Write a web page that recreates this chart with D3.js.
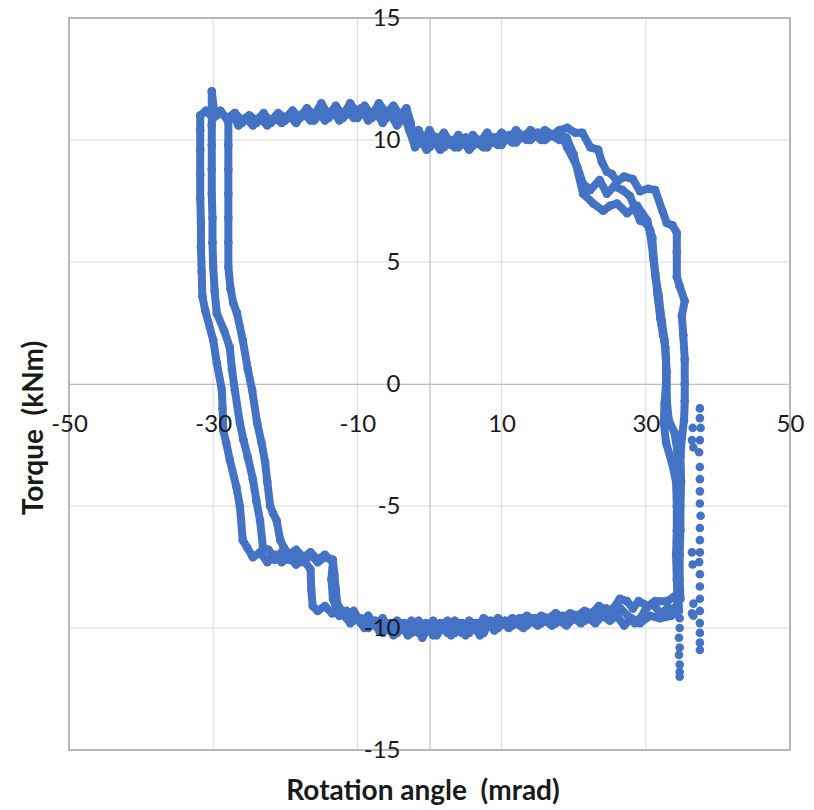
<!DOCTYPE html>
<html>
<head>
<meta charset="utf-8">
<script src="https://d3js.org/d3.v7.min.js"></script>
<style>
  body { margin: 0; background: #fff; }
  svg { display: block; }
</style>
</head>
<body>
<div id="chart"></div>
<script>
// rotation angle (mrad), torque (kNm) -- three cycles
var loop1 = [
  [-31.8, 11.0], [-31.0, 11.2], [-30.0, 10.9], [-29.0, 11.1], [-28.0, 10.9], [-27.0, 11.1], [-26.0, 10.8], [-25.0, 11.0],
  [-24.0, 10.7], [-23.0, 11.0], [-22.0, 10.8], [-21.0, 11.1], [-20.0, 10.9], [-19.0, 11.2], [-18.0, 10.9], [-17.0, 11.3],
  [-16.0, 11.0], [-15.0, 11.5], [-14.0, 11.0], [-13.0, 11.4], [-12.0, 11.0], [-11.0, 11.5], [-10.0, 11.1], [-9.0, 11.4],
  [-8.0, 11.0], [-7.0, 11.5], [-6.0, 11.1], [-5.0, 11.4], [-4.0, 11.0], [-3.2, 11.3], [-2.6, 10.7], [-2.2, 10.0],
  [-1.5, 10.4], [-0.8, 9.8], [0.0, 10.4], [1.0, 9.9], [2.0, 10.3], [3.0, 9.8], [4.0, 10.2], [5.0, 9.8], [6.0, 10.2],
  [7.0, 9.9], [8.0, 10.3], [9.0, 9.9], [10.0, 10.3], [11.0, 10.0], [12.0, 10.4], [13.0, 10.1], [14.0, 10.4], [15.0, 10.2],
  [16.0, 10.4], [17.0, 10.2], [18.0, 10.4], [19.1, 10.5], [20.2, 10.3], [21.2, 10.3], [22.3, 9.7], [23.4, 9.6], [23.9, 9.1],
  [24.6, 8.7], [25.3, 8.6], [26.0, 8.3], [27.0, 8.5], [28.2, 8.4], [29.2, 7.9], [30.3, 8.0], [31.3, 7.95], [32.3, 7.1],
  [32.9, 6.6], [33.7, 6.5], [34.3, 6.2],
  [34.3, 5.4], [34.3, 4.4], [34.7, 4.0], [35.4, 3.4], [35.0, 2.8], [35.2, 2.0], [35.4, 1.0], [35.4, 0.0], [35.4, -0.7],
  [35.3, -1.5], [35.0, -2.2], [34.8, -3.0], [34.9, -4.0], [34.8, -5.0], [34.8, -6.0], [34.7, -7.0], [34.7, -8.0], [34.8, -8.8],
  [34.0, -8.7], [33.0, -8.9], [31.3, -8.9], [30.3, -9.1], [29.0, -8.9], [28.2, -9.2], [27.4, -8.9], [26.4, -8.8], [25.5, -9.2],
  [24.5, -9.3], [23.5, -9.1], [22.5, -9.4], [21.5, -9.3], [20.5, -9.5], [19.5, -9.4], [18.5, -9.6], [17.5, -9.4], [16.5, -9.6],
  [15.5, -9.5], [14.5, -9.7], [13.5, -9.5], [12.5, -9.7], [11.5, -9.6], [10.5, -9.8], [9.5, -9.6], [8.5, -9.9], [7.5, -9.6],
  [6.5, -10.1], [5.5, -9.7], [4.5, -10.2], [3.5, -9.7], [2.5, -10.2], [1.5, -9.8], [0.5, -10.3], [-0.5, -9.8], [-1.5, -10.2],
  [-2.5, -9.7], [-3.5, -10.1], [-4.5, -9.7], [-5.5, -10.1], [-6.5, -9.6], [-7.5, -9.9], [-8.5, -9.5], [-9.5, -9.8],
  [-10.5, -9.3], [-11.5, -9.6], [-12.5, -9.2], [-13.5, -9.4], [-14.5, -9.1], [-15.5, -9.3], [-16.2, -9.1], [-16.4, -8.4],
  [-16.5, -7.6], [-17.5, -7.2], [-18.5, -7.4], [-19.5, -7.1], [-20.5, -7.3], [-21.5, -7.0], [-22.5, -7.3], [-23.5, -6.9],
  [-24.5, -7.1], [-25.3, -6.7], [-25.9, -6.4],
  [-26.3, -5.0], [-26.8, -4.2], [-27.7, -3.1], [-28.2, -2.4], [-28.6, -1.9], [-28.7, -1.0], [-28.8, -0.25], [-29.5, 0.86],
  [-30.0, 1.8], [-31.1, 3.0], [-31.5, 3.6], [-31.6, 4.6], [-31.7, 5.6], [-31.7, 6.6], [-31.8, 7.6], [-31.8, 8.6], [-31.8, 9.6],
  [-31.8, 10.4], [-31.8, 11.0]
];

var loop2 = [
  [-30.2, 11.2], [-30.2, 12.0], [-29.8, 11.0], [-29.0, 11.2], [-28.0, 10.8], [-27.2, 11.0], [-26.5, 10.6], [-25.5, 10.9],
  [-24.5, 10.6], [-23.5, 10.9], [-22.5, 10.6], [-21.5, 10.9], [-20.5, 10.7], [-19.5, 11.0], [-18.5, 10.7], [-17.5, 11.1],
  [-16.5, 10.8], [-15.5, 11.2], [-14.5, 10.8], [-13.5, 11.2], [-12.5, 10.8], [-11.5, 11.2], [-10.5, 10.9], [-9.5, 11.3],
  [-8.5, 10.8], [-7.5, 11.2], [-6.5, 10.7], [-5.5, 11.1], [-4.5, 10.6], [-3.5, 11.0], [-2.8, 10.4], [-2.0, 9.7], [-1.2, 10.1],
  [-0.4, 9.6], [0.5, 10.0], [1.5, 9.6], [2.5, 10.0], [3.5, 9.7], [4.5, 10.0], [5.5, 9.6], [6.5, 9.9], [7.5, 9.7], [8.5, 10.0],
  [9.5, 9.8], [10.5, 10.1], [11.5, 9.9], [12.5, 10.2], [13.5, 10.0], [14.5, 10.2], [15.5, 10.0], [16.5, 10.3], [17.5, 10.1],
  [18.3, 10.2], [19.1, 9.7], [20.5, 8.9], [21.3, 8.2], [22.3, 7.95], [23.6, 8.36], [24.6, 7.8], [25.6, 8.1], [26.8, 7.95],
  [27.8, 7.7], [28.5, 7.2], [29.2, 6.7], [30.0, 6.6], [30.6, 6.3],
  [30.9, 6.0], [31.1, 5.1], [31.4, 4.3], [31.6, 3.7], [32.0, 2.7], [32.4, 2.0], [32.7, 1.5], [32.9, 0.5], [32.9, -0.66],
  [33.2, -1.5], [34.0, -2.0], [34.4, -2.8], [34.5, -3.6], [34.5, -4.6], [34.5, -5.6], [34.4, -6.6], [34.4, -7.6], [34.5, -8.6],
  [34.6, -9.3],
  [33.5, -9.5], [32.0, -9.6], [30.6, -9.5], [29.2, -9.8], [28.0, -9.6], [27.0, -9.9], [26.0, -9.5], [25.0, -9.7], [24.0, -9.5],
  [23.0, -9.8], [22.0, -9.6], [21.0, -9.8], [20.0, -9.6], [19.0, -9.9], [18.0, -9.7], [17.0, -9.9], [16.0, -9.7], [15.0, -9.9],
  [14.0, -9.7], [13.0, -10.0], [12.0, -9.8], [11.0, -10.0], [10.0, -9.8], [9.0, -10.1], [8.0, -9.7], [7.0, -10.3], [6.0, -9.8],
  [5.0, -10.3], [4.0, -9.8], [3.0, -10.3], [2.0, -9.8], [1.0, -10.3], [0.0, -9.9], [-1.0, -10.4], [-2.0, -9.9], [-3.0, -10.3],
  [-4.0, -9.8], [-5.0, -10.3], [-6.0, -9.8], [-7.0, -10.1], [-8.0, -9.7], [-9.0, -10.0], [-10.0, -9.6], [-11.0, -9.8],
  [-12.0, -9.4], [-12.8, -9.0], [-13.0, -8.4], [-13.2, -7.8], [-13.4, -7.2], [-14.5, -7.1], [-15.5, -7.3], [-16.5, -7.0],
  [-17.5, -7.3], [-18.5, -6.9], [-19.5, -7.2], [-20.5, -6.9], [-21.5, -7.2], [-22.3, -6.8], [-23.1, -6.7],
  [-23.5, -5.6], [-24.0, -4.8], [-24.5, -3.9], [-25.2, -3.0], [-25.8, -2.3], [-26.3, -1.6], [-27.0, -0.25], [-27.4, 0.6],
  [-27.7, 1.5], [-28.5, 2.2], [-29.5, 2.9], [-29.8, 3.8], [-30.0, 4.8], [-30.1, 5.8], [-30.1, 6.8], [-30.2, 7.8], [-30.2, 8.8],
  [-30.2, 9.8], [-30.2, 10.6], [-30.2, 11.2]
];

var loop3 = [
  [-27.9, 10.9], [-27.0, 11.1], [-26.0, 10.7], [-25.0, 11.0], [-24.0, 10.8], [-23.0, 11.1], [-22.0, 10.7], [-21.0, 11.0],
  [-20.0, 10.8], [-19.0, 11.2], [-18.0, 10.9], [-17.0, 11.1], [-16.0, 10.8], [-15.0, 11.1], [-14.0, 10.9], [-13.0, 11.3],
  [-12.0, 10.9], [-11.0, 11.2], [-10.0, 10.9], [-9.0, 11.3], [-8.0, 10.9], [-7.0, 11.2], [-6.0, 10.9], [-5.0, 11.1],
  [-4.0, 10.8], [-3.0, 10.8], [-2.4, 10.2], [-1.8, 9.8], [-1.0, 10.2], [0.0, 9.7], [1.0, 10.1], [2.0, 9.7], [3.0, 10.0],
  [4.0, 9.7], [5.0, 10.1], [6.0, 9.8], [7.0, 10.0], [8.0, 9.7], [9.0, 10.1], [10.0, 9.8], [11.0, 10.2], [12.0, 9.9],
  [13.0, 10.2], [14.0, 10.0], [15.0, 10.3], [16.0, 10.0], [17.0, 10.2], [18.0, 10.0], [19.0, 10.1], [20.0, 9.4], [21.3, 7.8],
  [22.7, 7.4], [24.1, 7.1], [25.0, 7.3], [26.0, 7.4], [27.4, 7.0], [28.8, 7.3], [30.2, 6.7], [30.6, 6.2],
  [31.0, 5.3], [31.3, 4.5], [31.8, 3.6], [32.2, 2.6], [32.6, 1.8], [32.8, 1.0], [32.8, 0.0], [32.6, -0.8], [32.5, -1.6],
  [32.8, -2.4], [33.6, -3.2], [34.2, -4.0], [34.3, -5.0], [34.3, -6.0], [34.2, -7.0], [34.3, -8.0], [34.4, -9.0],
  [34.0, -9.2], [33.0, -9.2], [32.0, -9.4], [31.0, -9.0], [30.0, -9.2], [29.5, -9.5], [28.5, -9.8], [27.5, -9.5], [26.5, -9.2],
  [25.5, -9.5], [24.5, -9.2], [23.5, -9.6], [22.5, -9.4], [21.5, -9.7], [20.5, -9.5], [19.5, -9.7], [18.5, -9.5], [17.5, -9.8],
  [16.5, -9.6], [15.5, -9.8], [14.5, -9.6], [13.5, -9.9], [12.5, -9.6], [11.5, -9.9], [10.5, -9.7], [9.5, -10.0], [8.5, -9.7],
  [7.5, -10.2], [6.5, -9.8], [5.5, -10.2], [4.5, -9.8], [3.5, -10.2], [2.5, -9.7], [1.5, -10.1], [0.5, -9.7], [-0.5, -10.1],
  [-1.5, -9.7], [-2.5, -10.2], [-3.5, -9.8], [-4.5, -10.2], [-5.5, -9.8], [-6.5, -10.2], [-7.5, -9.7], [-8.5, -10.0],
  [-9.5, -9.6], [-10.5, -9.7], [-11.5, -9.3], [-12.5, -9.5], [-13.4, -8.8], [-13.6, -8.0], [-13.4, -7.3], [-14.5, -7.0],
  [-15.5, -7.2], [-16.5, -6.9], [-17.5, -7.1], [-18.5, -6.8], [-19.5, -7.0], [-20.2, -6.7], [-20.7, -6.4],
  [-21.2, -5.6], [-21.7, -5.3], [-22.1, -5.0], [-22.5, -4.0], [-22.8, -3.2], [-23.3, -2.4], [-23.9, -1.6], [-24.6, -0.25],
  [-25.2, 0.6], [-25.9, 1.8], [-26.7, 2.9], [-27.2, 3.3], [-27.6, 3.9], [-27.9, 4.8], [-27.9, 5.8], [-27.9, 6.8], [-27.9, 7.8],
  [-27.9, 8.8], [-27.9, 9.8], [-27.9, 10.9]
];

// isolated readings near the right-hand unloading edge
var strayPoints = [
  [37.5, -1.0], [37.5, -1.4], [37.6, -1.8], [37.5, -2.3], [37.4, -2.8], [37.5, -3.4], [37.5, -3.9], [37.5, -4.4],
  [37.5, -4.9], [37.6, -5.4], [37.5, -5.9], [37.5, -6.4], [37.5, -6.9], [37.4, -7.3], [37.5, -7.8], [37.5, -8.3],
  [37.5, -8.8], [37.5, -9.3], [37.5, -9.8], [37.5, -10.2], [37.5, -10.6], [37.5, -10.9],
  [36.5, -1.8], [36.4, -2.3], [36.6, -2.6], [36.4, -6.9], [36.5, -7.4], [36.6, -9.0], [36.4, -9.4], [36.6, -9.5],
  [34.7, -9.6], [34.7, -10.0], [34.6, -10.4], [34.7, -10.8], [34.6, -11.1], [34.7, -11.5], [34.7, -11.8], [34.7, -12.0]
];

var xTicks = [-50, -30, -10, 10, 30, 50];
var yTicks = [-15, -10, -5, 0, 5, 10, 15];

(function () {
    var svgWidth = 814;
    var svgHeight = 810;
    var plotLeft = 69, plotRight = 790, plotTop = 18, plotBottom = 750;
    var blue = '#4472c4';
    var font = 'Lato, "Open Sans", sans-serif';

    var svg = d3.select('#chart')
        .append('svg')
        .attr('width', svgWidth)
        .attr('height', svgHeight);

    var x = d3.scaleLinear().domain([-50, 50]).range([plotLeft, plotRight]);
    var y = d3.scaleLinear().domain([-15, 15]).range([plotBottom, plotTop]);

    // gridlines
    svg.append('g')
        .selectAll('line')
        .data(xTicks)
        .enter()
        .append('line')
        .attr('x1', function(d) { return x(d); })
        .attr('x2', function(d) { return x(d); })
        .attr('y1', plotTop)
        .attr('y2', plotBottom)
        .attr('stroke', '#d9d9d9')
        .attr('stroke-width', 1);

    svg.append('g')
        .selectAll('line')
        .data(yTicks)
        .enter()
        .append('line')
        .attr('x1', plotLeft)
        .attr('x2', plotRight)
        .attr('y1', function(d) { return y(d); })
        .attr('y2', function(d) { return y(d); })
        .attr('stroke', '#d9d9d9')
        .attr('stroke-width', 1);

    // plot area frame
    svg.append('rect')
        .attr('x', plotLeft)
        .attr('y', plotTop)
        .attr('width', plotRight - plotLeft)
        .attr('height', plotBottom - plotTop)
        .attr('fill', 'none')
        .attr('stroke', '#a6a6a6')
        .attr('stroke-width', 1.5);

    // axis lines crossing at zero (labels added later, on top of the data)
    var plain = function(d) { return String(d); };
    var xAxisFn = d3.axisBottom(x).tickValues(xTicks).tickFormat(plain)
        .tickSize(0).tickSizeOuter(0).tickPadding(31);
    var yAxisFn = d3.axisLeft(y).tickValues(yTicks).tickFormat(plain)
        .tickSize(0).tickSizeOuter(0).tickPadding(29);

    svg.append('g')
        .attr('transform', 'translate(0,' + y(0) + ')')
        .call(xAxisFn)
        .call(function(g) { g.selectAll('.tick').remove(); })
        .select('.domain').attr('stroke', '#bfbfbf').attr('stroke-width', 1.2);
    svg.append('g')
        .attr('transform', 'translate(' + x(0) + ',0)')
        .call(yAxisFn)
        .call(function(g) { g.selectAll('.tick').remove(); })
        .select('.domain').attr('stroke', '#bfbfbf').attr('stroke-width', 1.2);

    // data
    var line = d3.line()
        .x(function(d) { return x(d[0]); })
        .y(function(d) { return y(d[1]); });

    var dataLayer = svg.append('g');
    var loops = [loop1, loop2, loop3];

    loops.forEach(function(loop) {
        dataLayer.append('path')
            .datum(loop)
            .attr('d', line)
            .attr('fill', 'none')
            .attr('stroke', blue)
            .attr('stroke-width', 8)
            .attr('stroke-linejoin', 'round');
    });

    loops.concat([strayPoints]).forEach(function(pts) {
        dataLayer.append('g')
            .selectAll('circle')
            .data(pts)
            .enter()
            .append('circle')
            .attr('cx', function(d) { return x(d[0]); })
            .attr('cy', function(d) { return y(d[1]); })
            .attr('r', 4.3)
            .attr('fill', blue);
    });

    // tick labels
    var xLabels = svg.append('g')
        .attr('transform', 'translate(0,' + y(0) + ')')
        .call(xAxisFn);
    var yLabels = svg.append('g')
        .attr('transform', 'translate(' + x(0) + ',0)')
        .call(yAxisFn);

    [xLabels, yLabels].forEach(function(ax) {
        ax.select('.domain').remove();
        ax.selectAll('text')
            .attr('fill', '#1a1a1a')
            .style('font-family', font)
            .style('font-size', '24px');
    });

    // axis titles
    svg.append('text')
        .attr('x', 423)
        .attr('y', 800)
        .attr('text-anchor', 'middle')
        .style('white-space', 'pre')
        .style('font-family', font)
        .style('font-weight', 'bold')
        .style('font-size', '28px')
        .attr('fill', '#1a1a1a')
        .text('Rotation angle  (mrad)');

    svg.append('text')
        .attr('transform', 'translate(43,428) rotate(-90)')
        .attr('text-anchor', 'middle')
        .style('white-space', 'pre')
        .style('font-family', font)
        .style('font-weight', 'bold')
        .style('font-size', '28px')
        .attr('fill', '#1a1a1a')
        .text('Torque  (kNm)');
})();
</script>
</body>
</html>
